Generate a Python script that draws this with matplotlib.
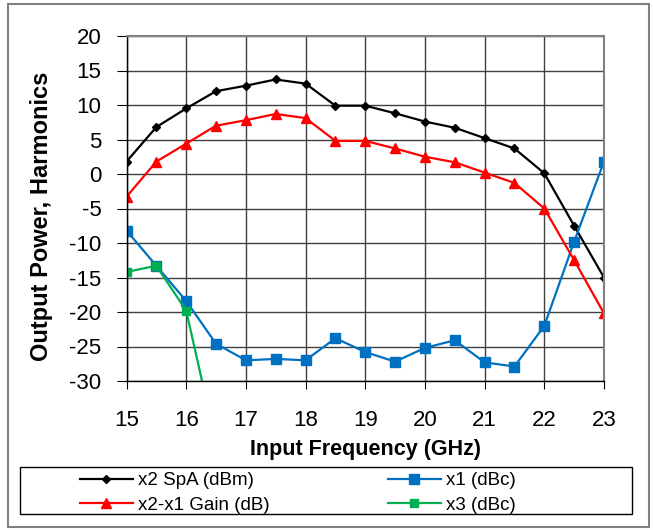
import matplotlib
matplotlib.use("Agg")
import matplotlib.pyplot as plt
from matplotlib.patches import Rectangle

plt.rcParams['font.family'] = ['Liberation Sans', 'DejaVu Sans']
plt.rcParams['axes.unicode_minus'] = False

freq = [15, 15.5, 16, 16.5, 17, 17.5, 18, 18.5, 19, 19.5, 20, 20.5, 21, 21.5, 22, 22.5, 23]
x2_spa = [1.8, 6.8, 9.5, 12.0, 12.8, 13.7, 13.1, 9.9, 9.9, 8.8, 7.6, 6.7, 5.2, 3.7, 0.1, -7.5, -15.0]
gain = [-3.3, 1.8, 4.4, 7.0, 7.8, 8.7, 8.1, 4.8, 4.8, 3.7, 2.5, 1.7, 0.2, -1.3, -5.0, -12.5, -20.2]
x1_dbc = [-8.2, -13.3, -18.4, -24.6, -27.0, -26.8, -27.0, -23.8, -25.8, -27.2, -25.2, -24.1, -27.3, -27.9, -22.0, -9.8, 1.8]
freq_x3 = [15, 15.5, 16, 16.5]
x3_dbc = [-14.2, -13.3, -19.8, -39.0]

xticks = [15, 16, 17, 18, 19, 20, 21, 22, 23]
yticks = [-30, -25, -20, -15, -10, -5, 0, 5, 10, 15, 20]

fig = plt.figure(figsize=(6.53, 5.30), dpi=100)
fig.patches.append(Rectangle((8/653, 3/530), 641/653, 523/530, transform=fig.transFigure,
                             fill=False, edgecolor='#808080', linewidth=1.5))
fig.patches.append(Rectangle((20/653, 16/530), 612/653, 47/530, transform=fig.transFigure,
                             fill=False, edgecolor='black', linewidth=1))
ax = fig.add_axes([126.5/653, 149/530, 477.5/653, 345/530])

l1, = ax.plot(freq, x2_spa, color='black', marker='D', markersize=4.5, linewidth=1.6, label='x2 SpA (dBm)')
l3, = ax.plot(freq, x1_dbc, color='#0070C0', marker='s', markersize=6.5, linewidth=1.6, label='x1 (dBc)')
l4, = ax.plot(freq_x3, x3_dbc, color='#00B050', marker='s', markersize=5.5, linewidth=1.6, label='x3 (dBc)')
l2, = ax.plot(freq, gain, color='#FF0000', marker='^', markersize=6.5, linewidth=1.6, label='x2-x1 Gain (dB)')

ax.set_xlim(15, 23)
ax.set_ylim(-30, 20)
ax.set_xticks(xticks)
ax.set_yticks(yticks)
ax.grid(True, color='#404040', linewidth=1)
ax.set_axisbelow(True)
ax.tick_params(axis='both', labelsize=16, direction='out', color='black')
ax.tick_params(axis='x', pad=15, length=6)
ax.tick_params(axis='y', pad=11, length=7)
for s in ['left', 'bottom']:
    ax.spines[s].set_color('black')
    ax.spines[s].set_linewidth(1)
for s in ['right', 'top']:
    ax.spines[s].set_color('#808080')
    ax.spines[s].set_linewidth(1.5)

ax.set_xlabel('Input Frequency (GHz)', fontsize=15.5, fontweight='bold', labelpad=6)
ax.set_ylabel('Output Power, Harmonics', fontsize=17, fontweight='bold')
ax.yaxis.set_label_coords(-0.154, 0.478)

leg = fig.legend(handles=[l1, l2, l3, l4], loc='center', ncol=2,
                 bbox_to_anchor=(298/653, 37/530),
                 fontsize=13.5, frameon=False,
                 borderpad=0.2, labelspacing=0.4, handlelength=2.8, handletextpad=0.3,
                 columnspacing=6.3, borderaxespad=0)

fig.savefig('out.png', dpi=100)
